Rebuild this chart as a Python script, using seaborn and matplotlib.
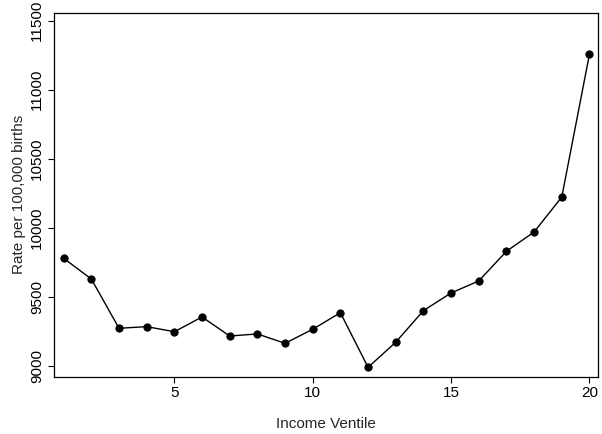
import numpy as np
import pandas as pd
import matplotlib
matplotlib.use("Agg")
import matplotlib.pyplot as plt
import seaborn as sns

# data
ventile = list(range(1, 21))
rate = [9778, 9628, 9271, 9283, 9246, 9353, 9215, 9230, 9162, 9264,
        9384, 8988, 9170, 9399, 9527, 9614, 9829, 9969, 10222, 11257]
x_ticks = [5, 10, 15, 20]
y_ticks = [9000, 9500, 10000, 10500, 11000, 11500]

df = pd.DataFrame({"ventile": ventile, "rate": rate})

sns.set_style("ticks")
plt.rcParams["font.family"] = ["Liberation Sans", "DejaVu Sans"]
plt.rcParams["font.size"] = 11

fig = plt.figure(figsize=(6.02, 4.34), dpi=100)
ax = fig.add_axes([0.0897, 0.132, 0.9037, 0.838])

sns.lineplot(data=df, x="ventile", y="rate", ax=ax, color="black",
             linewidth=1.0, marker="o", markersize=5.2,
             markeredgecolor="black", markerfacecolor="black")

ax.set_xlim(0.65, 20.31)
ax.set_ylim(8920, 11556)
ax.set_xticks(x_ticks)
ax.set_yticks(y_ticks)
ax.set_yticklabels([str(v) for v in y_ticks], rotation=90, va="center")

for side in ["top", "right", "left", "bottom"]:
    ax.spines[side].set_visible(True)
    ax.spines[side].set_color("black")
    ax.spines[side].set_linewidth(0.9)
ax.tick_params(axis="both", direction="out", length=4, width=0.8,
               colors="black", labelsize=11, pad=3)

ax.set_xlabel("Income Ventile", fontsize=11, labelpad=12)
ax.set_ylabel("Rate per 100,000 births", fontsize=11, labelpad=3)

fig.savefig("out.png", dpi=100, facecolor="white")
